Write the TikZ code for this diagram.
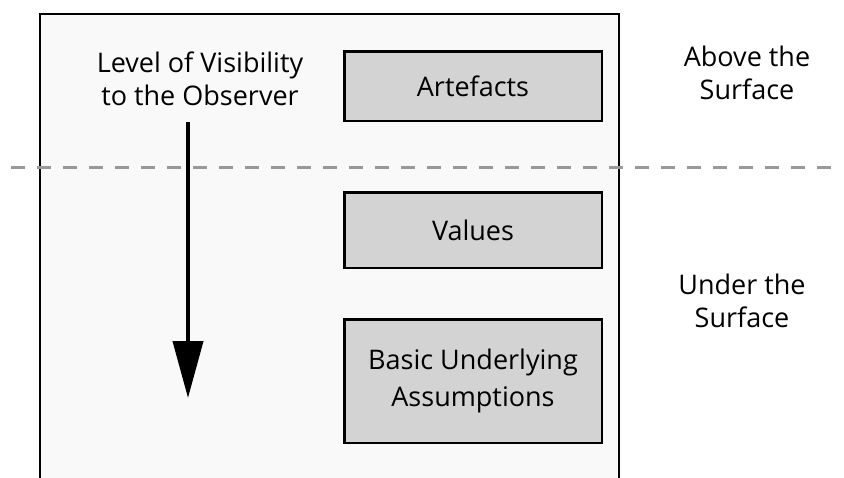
\documentclass[tikz,border=0pt]{standalone}
\usepackage{fontspec}
\setmainfont{Open Sans}
\usepackage{tikz}
\usetikzlibrary{arrows.meta}
\usepackage{xcolor}
\definecolor{framefill}{HTML}{F9F9F9}
\definecolor{boxfill}{HTML}{D3D3D3}
\definecolor{surfacegray}{HTML}{999999}

\begin{document}
\begin{tikzpicture}[x=1pt, y=-1pt,
    every text/.style={font=\fontsize{27}{33}\selectfont, align=center, inner sep=0pt},
    layer/.style={draw, line width=2.5pt, fill=boxfill, minimum width=257.5pt,
      font=\fontsize{27}{37}\selectfont, align=center, inner sep=0pt}]
      \useasboundingbox (0,0) rectangle (844,477);
      \clip (0,0) rectangle (844,477);

      % Frame, open at the bottom
      \draw [line width=2pt, fill=framefill] (40,500) -- (40,14) -- (619,14) -- (619,500);

      % The surface line
      \coordinate (surface-west) at (11,167);
      \coordinate (surface-east) at (835,167);
      \draw [surfacegray, line width=3pt, dash pattern=on 14pt off 12pt]
        (surface-west) -- (surface-east);

      % The three levels
      \foreach \m/\l/\y/\h in {1/Artefacts/86/69.5, 2/Values/230/75.5,
                              3/{Basic Underlying\\Assumptions}/381/123.5}
        \node [layer, minimum height=\h pt] (level-\m) at (473,\y) {\l};

      % Visibility arrow
      \node [every text] (visibility) at (200,79) {Level of Visibility\\to the Observer};
      \coordinate (arrow-top) at (188,122);
      \coordinate (arrow-tip) at (188,398);
      \draw [line width=4pt, -{Triangle[length=57pt, width=30pt]}] (arrow-top) -- (arrow-tip);

      % Surface labels
      \node [every text] (above) at (747,73) {Above the\\Surface};
      \node [every text] (under) at (742,301) {Under the\\Surface};
    \end{tikzpicture}
\end{document}
